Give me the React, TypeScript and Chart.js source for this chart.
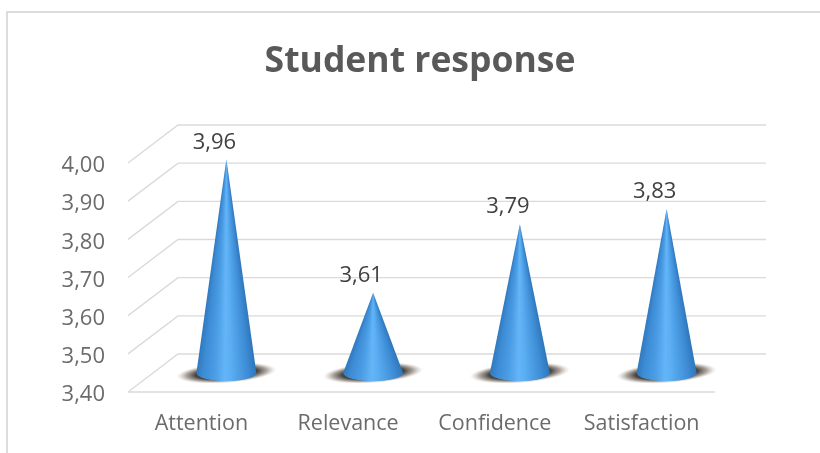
import { useEffect, useRef } from "react";
import { Chart, BarController, BarElement, CategoryScale, LinearScale, Title } from "chart.js";

// Survey results
const categories = ["Attention", "Relevance", "Confidence", "Satisfaction"];
const responseMeans = [3.96, 3.61, 3.79, 3.83];
const axisMin = 3.4;
const axisMax = 4.0;
const axisStep = 0.1;

// Depth of the pseudo 3D floor and walls, in pixels
const DEPTH_X = 50;
const DEPTH_Y = 38;
const GRID_COLOR = "#dadada";
const FONT = "'Open Sans', sans-serif";

const decimalComma = (v: number) => v.toFixed(2).replace(".", ",");

// A bar element that paints a shaded cone standing on the middle of the floor.
class ConeElement extends BarElement {
  static id = "coneBar";

  draw(ctx: CanvasRenderingContext2D) {
    const cx = this.x + DEPTH_X / 2;
    const tipY = this.y - DEPTH_Y / 2;
    const baseY = this.base - DEPTH_Y / 2;
    const rx = this.width / 2;
    const ry = 8;

    // soft contact shadow, tilted slightly along the floor
    ctx.save();
    ctx.translate(cx, baseY);
    ctx.rotate(-0.07);
    ctx.scale(1, 10 / 50);
    const shadow = ctx.createRadialGradient(0, 0, 0, 0, 0, 50);
    shadow.addColorStop(0, "rgba(45,42,40,0.95)");
    shadow.addColorStop(0.62, "rgba(52,48,44,0.9)");
    shadow.addColorStop(0.8, "rgba(100,88,76,0.55)");
    shadow.addColorStop(0.92, "rgba(140,125,110,0.2)");
    shadow.addColorStop(1, "rgba(170,155,140,0)");
    ctx.fillStyle = shadow;
    ctx.beginPath();
    ctx.arc(0, 0, 50, 0, Math.PI * 2);
    ctx.fill();
    ctx.restore();

    // shading runs around the apex, so it narrows towards the tip
    const alpha = Math.atan2(rx, baseY - tipY);
    const span = (2 * alpha) / (2 * Math.PI);
    const shade = ctx.createConicGradient(Math.PI / 2 - alpha, cx, tipY);
    const stops: [number, string][] = [
      [0, "#2f76ba"],
      [0.14, "#3d8cd5"],
      [0.42, "#5aaef2"],
      [0.52, "#64b5f8"],
      [0.7, "#4a9ce4"],
      [0.88, "#3d8cd5"],
      [1, "#3079be"],
    ];
    stops.forEach(([f, c]) => shade.addColorStop(f * span, c));
    shade.addColorStop(1, "#3079be");

    ctx.save();
    ctx.fillStyle = shade;
    ctx.beginPath();
    ctx.moveTo(cx, tipY);
    ctx.lineTo(cx + rx, baseY);
    ctx.ellipse(cx, baseY, rx, ry, 0, 0, Math.PI);
    ctx.closePath();
    ctx.fill();
    ctx.restore();
  }
}

class ConeController extends BarController {
  static id = "cone";
  static defaults = { ...BarController.defaults, dataElementType: "coneBar" };
}

Chart.register(CategoryScale, LinearScale, Title, BarElement, BarController, ConeElement, ConeController);

// Gridlines that run along the side wall and across the back wall, plus the floor's front edge.
const wallGrid = {
  id: "wallGrid",
  beforeDatasetsDraw(chart: Chart) {
    const { ctx, scales, chartArea } = chart;
    const y = scales.y;
    ctx.save();
    ctx.strokeStyle = GRID_COLOR;
    ctx.lineWidth = 1.4;
    y.ticks.forEach((t: { value: number }) => {
      const py = y.getPixelForValue(t.value);
      ctx.beginPath();
      ctx.moveTo(chartArea.left, py);
      ctx.lineTo(chartArea.left + DEPTH_X, py - DEPTH_Y);
      ctx.lineTo(chartArea.right + DEPTH_X + 1, py - DEPTH_Y);
      ctx.stroke();
    });
    const floor = y.getPixelForValue(axisMin);
    ctx.beginPath();
    ctx.moveTo(chartArea.left, floor);
    ctx.lineTo(chartArea.right, floor);
    ctx.stroke();
    ctx.restore();
  },
};

// Value printed above each cone's tip.
const tipLabels = {
  id: "tipLabels",
  afterDatasetsDraw(chart: Chart) {
    const { ctx } = chart;
    const meta = chart.getDatasetMeta(0);
    ctx.save();
    ctx.font = `22px ${FONT}`;
    ctx.fillStyle = "#404040";
    ctx.textAlign = "center";
    ctx.textBaseline = "middle";
    meta.data.forEach((el: { x: number; y: number }, i: number) => {
      ctx.fillText(decimalComma(responseMeans[i]), el.x + DEPTH_X / 2 - 12, el.y - DEPTH_Y / 2 - 17);
    });
    ctx.restore();
  },
};

// Centres the heading over the whole frame rather than over the axes' span.
const centreTitle = {
  id: "centreTitle",
  afterLayout(chart: any) {
    if (chart.titleBlock) chart.titleBlock.right = 840;
  },
};

export default function App() {
  const canvasRef = useRef<HTMLCanvasElement>(null);

  useEffect(() => {
    const chart = new Chart(canvasRef.current!, {
      type: "cone" as any,
      data: {
        labels: categories,
        datasets: [
          { label: "Student response", data: responseMeans, base: axisMin, barThickness: 60, clip: false } as any,
        ],
      },
      plugins: [wallGrid, tipLabels, centreTitle],
      options: {
        animation: false,
        responsive: false,
        layout: { padding: { left: 0, right: 105, top: 0, bottom: 0 } },
        plugins: {
          legend: { display: false },
          tooltip: { enabled: false },
          title: {
            display: true,
            text: "Student response",
            color: "#595959",
            font: { family: FONT, size: 35.5, weight: "bold", lineHeight: 1.2 },
            padding: { top: 41, bottom: 79.4 },
          },
        },
        scales: {
          x: {
            grid: { display: false, drawTicks: false },
            border: { display: false },
            ticks: { color: "#6b6b6b", font: { family: FONT, size: 21.5 }, padding: 19, maxRotation: 0 },
            afterFit(s: any) {
              s.height = 61;
            },
          },
          y: {
            min: axisMin,
            max: axisMax,
            grid: { display: false, drawTicks: false },
            border: { display: false },
            ticks: {
              stepSize: axisStep,
              color: "#6b6b6b",
              font: { family: FONT, size: 22 },
              padding: 23,
              labelOffset: 3,
              callback: (v: any) => decimalComma(Number(v)),
            },
            afterFit(s: any) {
              s.width = 128;
            },
          },
        },
      },
    });
    return () => chart.destroy();
  }, []);

  return (
    <div style={{ position: "absolute", left: 0, top: 0, width: 820, height: 453, background: "#fff", overflow: "hidden" }}>
      <div
        style={{
          position: "absolute",
          left: 6,
          top: 11,
          width: 820,
          height: 450,
          borderLeft: "2px solid #dcdcdc",
          borderTop: "2px solid #dcdcdc",
        }}
      />
      <canvas ref={canvasRef} width={820} height={453} style={{ position: "absolute", left: 0, top: 0, display: "block" }} />
    </div>
  );
}
